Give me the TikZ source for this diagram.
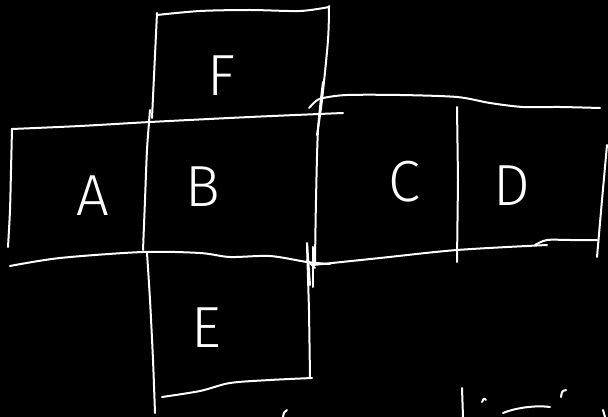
\documentclass[tikz,border=0pt]{standalone}
\usepackage{fontspec}
\newfontfamily\handfont{Fira Sans Light}
\begin{document}
\begin{tikzpicture}[x=1pt,y=-1pt,
  stroke/.style={draw=white,line width=2pt,line cap=round,line join=round},
  letter/.style={text=white,font=\handfont\fontsize{58}{58}\selectfont,inner sep=0pt}]
\fill[black] (0,0) rectangle (608,417);
\useasboundingbox (0,0) rectangle (608,417);
% F box
\draw[stroke] plot[smooth] coordinates {(157,15) (200,11) (250,10) (300,11) (329,7)};
\draw[stroke] (157,13) -- (152,118);
\draw[stroke] plot[smooth] coordinates {(329,6) (328,40) (322,100) (317,135)};
% top line of A/B
\draw[stroke] plot[smooth] coordinates {(12,129) (80,126) (150,122) (250,117) (343,113)};
% top line of C/D
\draw[stroke] plot[smooth] coordinates {(309,108) (316,101) (323,98) (347,95) (400,95) (457,97) (490,103) (523,107) (560,107) (600,108)};
% left edge A
\draw[stroke] plot[smooth] coordinates {(12,129) (11,170) (10,210) (8,247)};
% A/B divider and E left
\draw[stroke] plot[smooth] coordinates {(150,110) (147,150) (145,200) (143,250)};
\draw[stroke] plot[smooth] coordinates {(147,253) (150,300) (153,360) (155,413)};
% B/C divider
\draw[stroke] plot[smooth] coordinates {(323,82) (318,130) (316,200) (315,262)};
\draw[stroke] (307,243) -- (310,285);
% C/D divider
\draw[stroke] (457,107) -- (458,180) -- (457,262);
% right edge D
\draw[stroke] (607,145) -- (602,200) -- (597,257);
% bottom C/D
\draw[stroke] plot[smooth] coordinates {(313,265) (380,258) (457,250) (547,245)};
\draw[stroke] plot[smooth] coordinates {(535,245) (547,240) (570,240) (597,240)};
% bottom A/B
\draw[stroke] plot[smooth] coordinates {(10,266) (60,258) (143,252) (200,253) (230,257) (270,256) (307,262) (330,264)};
\draw[stroke] (307,260) -- (315,268);
% E box
\draw[stroke] (307,245) -- (309,310) -- (310,377);
\draw[stroke] (313,247) -- (313,287);
\draw[stroke] plot[smooth] coordinates {(162,397) (200,391) (230,383) (270,380) (312,378)};
% letters
\node[letter] (F) at (221,76) {F};
\node[letter] (A) at (93,196) {A};
\node[letter] (B) at (203,187) {B};
\node[letter] (C) at (404,182) {C};
\node[letter] (D) at (512,186) {D};
\node[letter] (E) at (206,328) {E};
% cut-off scribbles at the bottom
\draw[stroke] (287,410) .. controls (284,412) .. (283,417);
\draw[stroke] (462,388) -- (463,417);
\draw[stroke] (482,402) .. controls (484,398) .. (486,400);
\draw[stroke] (503,413) .. controls (515,408) and (535,405) .. (550,407);
\draw[stroke] (566,390) .. controls (562,391) .. (561,397);
\draw[stroke] (603,410) -- (605,417);
\end{tikzpicture}
\end{document}
